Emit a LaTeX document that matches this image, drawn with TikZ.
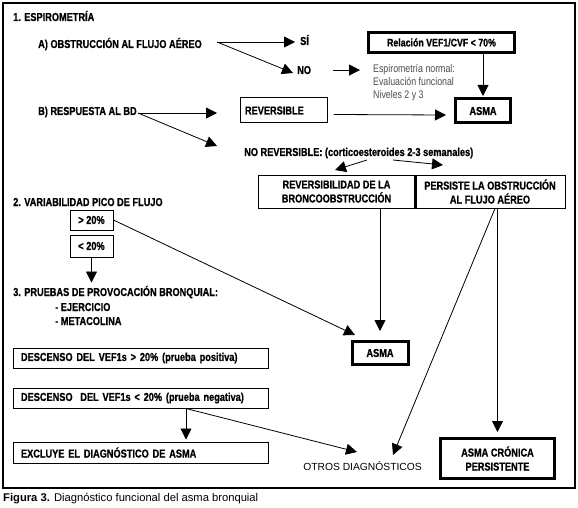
\documentclass[tikz,border=0pt]{standalone}
\usepackage{fontspec}
\setmainfont{Liberation Sans}
\newfontfamily\narrowfont[FakeStretch=0.8, BoldFeatures={FakeBold=0.8}]{Liberation Sans}
\usetikzlibrary{arrows.meta}
\begin{document}
\begin{tikzpicture}[x=1pt, y=-1pt, >={Triangle[length=11pt,width=11pt]},
  txt/.style={anchor=base west, inner sep=0pt, font=\narrowfont\bfseries\fontsize{11.5}{14}\selectfont},
  box/.style={draw, line width=1pt, inner sep=0pt, font=\narrowfont\bfseries\fontsize{11.5}{14}\selectfont},
  thickbox/.style={box, line width=3pt},
  arr/.style={->, line width=0.8pt}]
\useasboundingbox (0,0) rectangle (578,508);
\draw[line width=1.2pt] (3,3) rectangle (575,488);

% 1. espirometria
\node[txt] (t1) at (13,21) {1. ESPIROMETRÍA};
\node[txt] (qa) at (38,48) {A) OBSTRUCCIÓN AL FLUJO AÉREO};
\node[txt] (si) at (300,45) {SÍ};
\node[txt] (no) at (297,74) {NO};
\node[anchor=north west, inner sep=0pt, align=left, text=black!70,
  font=\narrowfont\fontsize{11}{13}\selectfont] (norm) at (373,64.5)
  {Espirometría normal:\\Evaluación funcional\\Niveles 2 y 3};
\node[thickbox, minimum width=146, minimum height=20, font=\narrowfont\bfseries\fontsize{11}{13}\selectfont] (rel) at (441.5,42.5) {Relación VEF1/CVF < 70\%};
\node[thickbox, minimum width=55, minimum height=24] (asma1) at (483,111) {ASMA};
\node[txt] (qb) at (38,115) {B) RESPUESTA AL BD};
\node[box, minimum height=25, text width=77, inner xsep=5pt, align=left] (rev) at (283.5,110.5) {REVERSIBLE};
\node[txt] (norev) at (244,156) {NO REVERSIBLE: (corticoesteroides 2-3 semanales)};
\node[box, minimum width=157, minimum height=33, align=center] (rb) at (336.5,191.5) {REVERSIBILIDAD DE LA\\BRONCOOBSTRUCCIÓN};
\node[box, minimum width=150, minimum height=33, align=center] (pb) at (490,191.5) {PERSISTE LA OBSTRUCCIÓN\\AL FLUJO AÉREO};
\draw[line width=2.2pt] (rb.north east) -- (rb.south east);

% 2. y 3.
\node[txt] (t2) at (13,206) {2. VARIABILIDAD PICO DE FLUJO};
\node[box, minimum width=43, minimum height=20] (gt) at (91.5,220) {> 20\%};
\node[box, minimum width=43, minimum height=22] (lt) at (91.5,246) {< 20\%};
\node[txt] (t3) at (13,296) {3. PRUEBAS DE PROVOCACIÓN BRONQUIAL:};
\node[txt] (ej) at (55,311) {- EJERCICIO};
\node[txt] (me) at (55,325) {- METACOLINA};
\node[thickbox, minimum width=56, minimum height=23] (asma2) at (380,353) {ASMA};
\node[box, minimum height=20, text width=239, inner xsep=8pt, align=left] (d1) at (140.5,358) {DESCENSO DEL VEF1s > 20\% (prueba positiva)};
\node[box, minimum height=20, text width=239, inner xsep=8pt, align=left] (d2) at (140.5,398) {DESCENSO\ \ DEL VEF1s < 20\% (prueba negativa)};
\node[box, minimum height=21, text width=239, inner xsep=8pt, align=left] (ex) at (140.5,452.5) {EXCLUYE EL DIAGNÓSTICO DE ASMA};
\node[anchor=base, inner sep=0pt, font=\fontsize{10.3}{12}\selectfont] (otros) at (362.5,470) {OTROS DIAGNÓSTICOS};
\node[thickbox, minimum width=114, minimum height=40, align=center] (cron) at (497.5,458.5) {ASMA CRÓNICA\\PERSISTENTE};
\node[anchor=base west, inner sep=0pt, font=\fontsize{11.2}{13}\selectfont] (cap) at (3,501) {\textbf{Figura 3.} Diagnóstico funcional del asma bronquial};

% flechas
\coordinate (aS) at (217,42);
\coordinate (aSi) at (295,42);
\coordinate (aNo) at (293,73);
\draw[arr] (aS) -- (aSi);
\draw[arr] (aS) -- (aNo);
\draw[arr] ([xshift=22pt]no.east) -- ([xshift=-13pt]no.east -| norm.west);
\draw[arr, shorten >=1.5pt] (rel.south -| asma1) -- (asma1.north);
\coordinate (bS) at (138,113);
\coordinate (bRev) at (217,113);
\coordinate (bNo) at (217,146);
\draw[arr] (bS) -- (bRev);
\draw[arr] (bS) -- (bNo);
\draw[arr] ([xshift=6pt,yshift=-4pt]rev.east) -- ([xshift=-8pt,yshift=-4pt]asma1.west);
\coordinate (nL1) at (367,160);
\coordinate (nL2) at (335,170);
\coordinate (nR1) at (393,160);
\coordinate (nR2) at (443,165);
\draw[arr] (nL1) -- (nL2);
\draw[arr] (nR1) -- (nR2);
\draw[arr] (rb.south -| asma2) -- ([yshift=9pt]asma2.north);
\coordinate (tA2) at (355,335);
\draw[arr] (gt.east) -- (tA2);
\draw[arr] (lt.south) -- ([yshift=-25pt]lt.south);
\draw[arr] (pb.south -| cron) -- ([yshift=5pt]cron.north);
\coordinate (oT2) at (393,455);
\draw[arr] ([xshift=5pt]pb.south) -- (oT2);
\coordinate (dS) at ([xshift=45.5pt]d2.south);
\draw[arr, shorten >=2pt] (dS) -- (dS |- ex.north);
\coordinate (oT1) at (357,452);
\draw[arr] (dS) -- (oT1);
\end{tikzpicture}
\end{document}
